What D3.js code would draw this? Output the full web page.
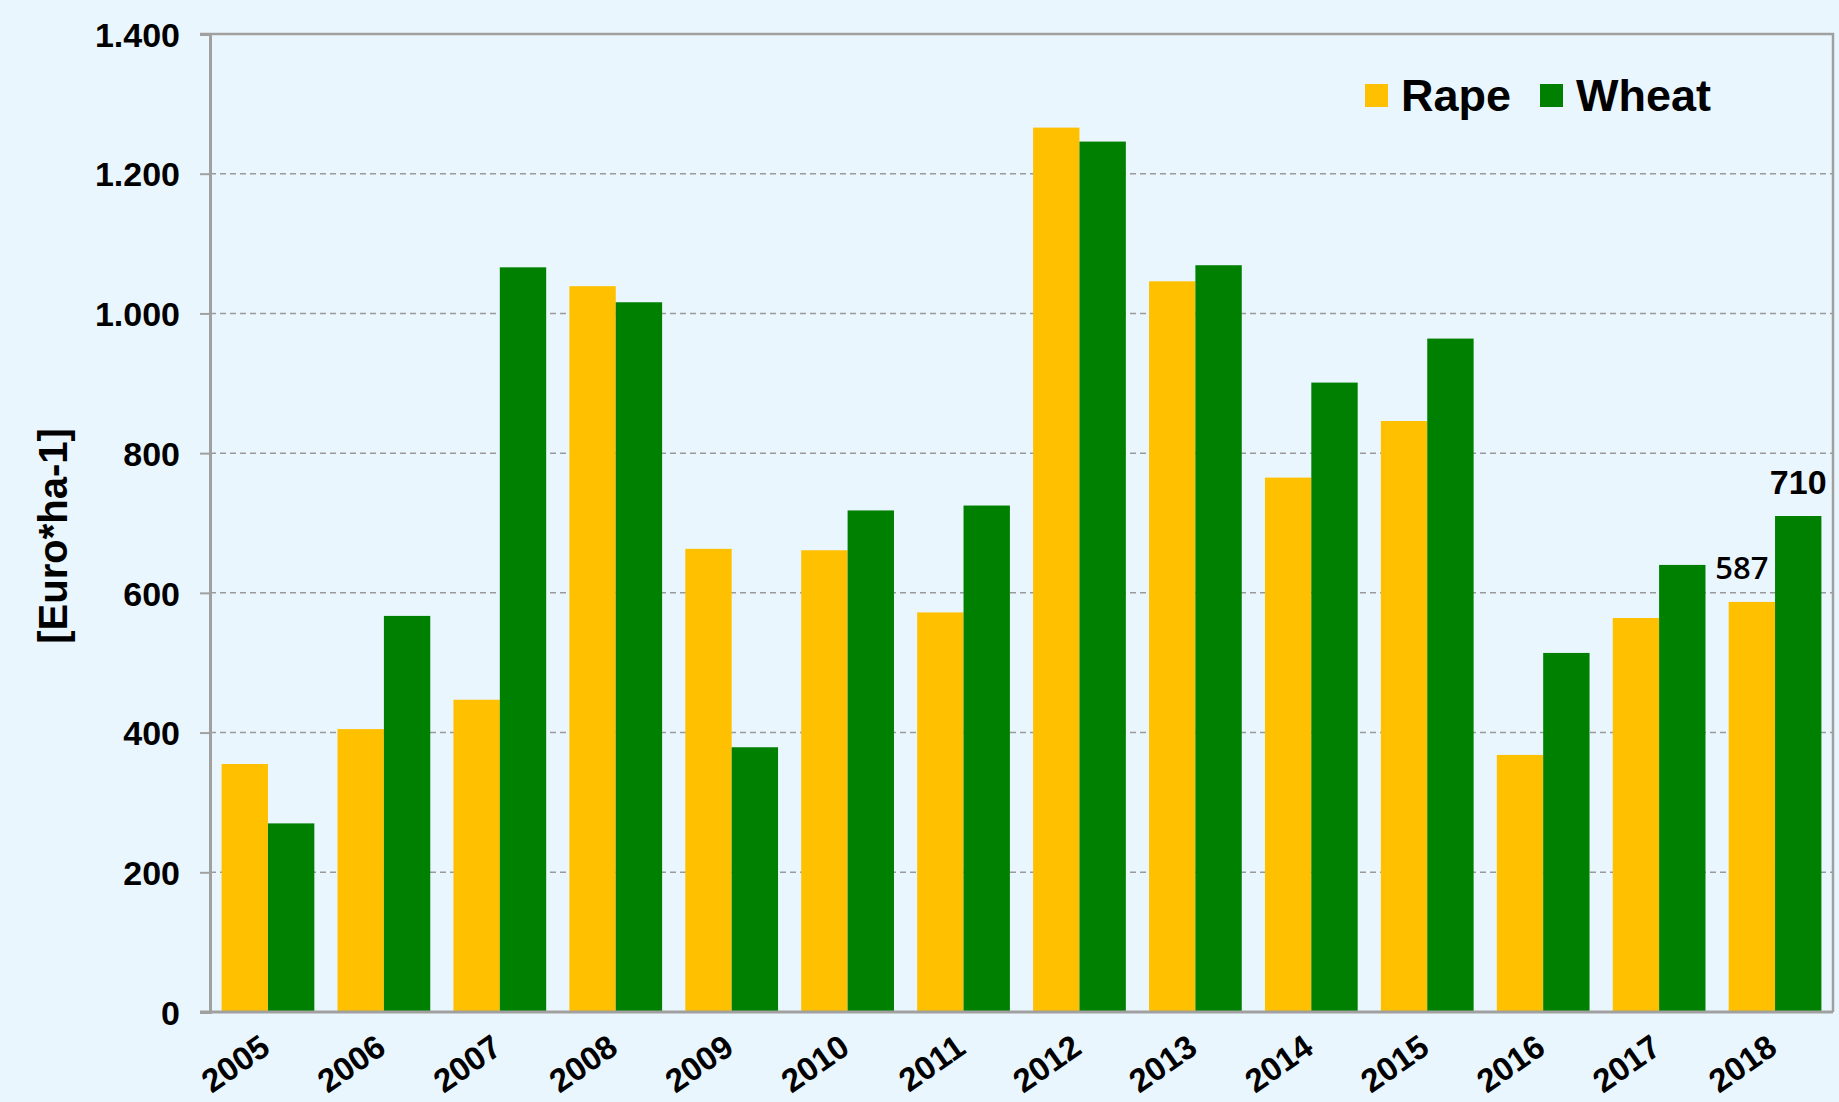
<!DOCTYPE html>
<html>
<head>
<meta charset="utf-8">
<script src="https://cdn.jsdelivr.net/npm/d3@7"></script>
<style>
  body { margin: 0; background: #eaf6fd; }
  text { font-family: "Liberation Sans", Arial, sans-serif; fill: #000; }
</style>
</head>
<body>
<div class="chart"></div>
<script>
// data
var years = ["2005", "2006", "2007", "2008", "2009", "2010", "2011", "2012", "2013", "2014", "2015", "2016", "2017", "2018"];
var rape = [355, 405, 447, 1039, 663, 661, 572, 1266, 1046, 765, 846, 368, 564, 587];
var wheat = [270, 567, 1066, 1016, 379, 718, 725, 1246, 1069, 901, 964, 514, 640, 710];
var yTicks = [0, 200, 400, 600, 800, 1000, 1200, 1400];
var seriesNames = ["Rape", "Wheat"];
var seriesColors = ["#ffc000", "#008000"];

var svgWidth = 1839;
var svgHeight = 1102;

var margin = {
  top: 34,
  right: 6,
  bottom: 90,
  left: 210
};

var width = svgWidth - margin.left - margin.right;
var height = svgHeight - margin.top - margin.bottom;

var svg = d3.select(".chart")
  .append("svg")
  .attr("width", svgWidth)
  .attr("height", svgHeight)
  .style("display", "block");

svg.append("rect")
  .attr("width", svgWidth)
  .attr("height", svgHeight)
  .attr("fill", "#eaf6fd");

var chartGroup = svg.append("g")
  .attr("transform", `translate(${margin.left}, ${margin.top})`);

// scales
var xBand = d3.scaleBand()
  .domain(years)
  .range([0, width])
  .paddingInner(0.2)
  .paddingOuter(0.1);

var xSub = d3.scaleBand()
  .domain(seriesNames)
  .range([0, xBand.bandwidth()]);

var yLinearScale = d3.scaleLinear()
  .domain([0, 1400])
  .range([height, 0]);

var deLocale = d3.formatLocale({ decimal: ",", thousands: ".", grouping: [3], currency: ["", "€"] });
var fmt = deLocale.format(",");

// dashed gridlines
chartGroup.selectAll(".grid")
  .data(yTicks.filter(d => d > 0 && d < 1400))
  .enter()
  .append("line")
  .attr("x1", 0)
  .attr("x2", width)
  .attr("y1", d => yLinearScale(d))
  .attr("y2", d => yLinearScale(d))
  .attr("stroke", "#9a9a9a")
  .attr("stroke-width", 1.5)
  .attr("stroke-dasharray", "6,4");

// bars
var rows = years.map((y, i) => ({ year: y, values: [rape[i], wheat[i]] }));

var groups = chartGroup.selectAll(".year")
  .data(rows)
  .enter()
  .append("g")
  .attr("transform", d => `translate(${xBand(d.year)}, 0)`);

groups.selectAll("rect")
  .data(d => d.values.map((v, k) => ({ name: seriesNames[k], value: v, k: k })))
  .enter()
  .append("rect")
  .attr("x", d => xSub(d.name))
  .attr("width", xSub.bandwidth())
  .attr("y", d => yLinearScale(d.value))
  .attr("height", d => height - yLinearScale(d.value))
  .attr("fill", d => seriesColors[d.k]);

// frame: top and right border
chartGroup.append("path")
  .attr("d", `M-10,0H${width}V${height}`)
  .attr("fill", "none")
  .attr("stroke", "#a0a0a0")
  .attr("stroke-width", 2.5);

// y axis
var yAxis = d3.axisLeft(yLinearScale)
  .tickValues(yTicks)
  .tickSize(10)
  .tickPadding(20)
  .tickFormat(fmt);

var yAxisG = chartGroup.append("g").call(yAxis);
yAxisG.select(".domain").attr("stroke", "#a0a0a0").attr("stroke-width", 3);
yAxisG.selectAll(".tick line").attr("stroke", "#a0a0a0").attr("stroke-width", 2);
yAxisG.selectAll(".tick text")
  .attr("font-family", "'Liberation Sans', Arial, sans-serif")
  .attr("font-size", 34)
  .attr("font-weight", "bold")
  .attr("dy", "0.36em");

// x axis
var xAxis = d3.axisBottom(xBand).tickSize(0);
var xAxisG = chartGroup.append("g")
  .attr("transform", `translate(0, ${height})`)
  .call(xAxis);
xAxisG.select(".domain")
  .attr("d", `M-10,0H${width}`)
  .attr("stroke", "#a0a0a0")
  .attr("stroke-width", 3);
xAxisG.selectAll(".tick text")
  .attr("font-family", "'Liberation Sans', Arial, sans-serif")
  .attr("font-size", 33)
  .attr("font-weight", "bold")
  .attr("x", 0)
  .attr("y", 0)
  .attr("dy", 0)
  .attr("transform", "translate(4, 40) rotate(-35)")
  .style("text-anchor", "end");

// axis title
chartGroup.append("text")
  .attr("transform", `translate(${53 - margin.left}, ${536 - margin.top}) rotate(-90)`)
  .attr("text-anchor", "middle")
  .attr("dy", "0.36em")
  .attr("font-size", 40)
  .attr("font-weight", "bold")
  .text("[Euro*ha-1]");

// value labels on the last year
var last = years.length - 1;
chartGroup.append("text")
  .attr("x", xBand(years[last]) + xSub("Rape") + xSub.bandwidth() / 2 - 10)
  .attr("y", yLinearScale(rape[last]) - 23)
  .attr("text-anchor", "middle")
  .attr("font-size", 31)
  .attr("font-weight", 600)
  .style("font-family", "'Open Sans', 'Liberation Sans', sans-serif")
  .text(rape[last]);

chartGroup.append("text")
  .attr("x", xBand(years[last]) + xSub("Wheat") + xSub.bandwidth() / 2)
  .attr("y", yLinearScale(wheat[last]) - 22)
  .attr("text-anchor", "middle")
  .attr("font-size", 34)
  .attr("font-weight", "bold")
  .text(wheat[last]);

// legend
var legendX = [1365, 1540];
var legend = svg.selectAll(".legend")
  .data(seriesNames)
  .enter()
  .append("g")
  .attr("transform", (d, i) => `translate(${legendX[i]}, 84)`);

legend.append("rect")
  .attr("width", 23)
  .attr("height", 23)
  .attr("fill", (d, i) => seriesColors[i]);

legend.append("text")
  .attr("x", 36)
  .attr("y", 27)
  .attr("font-size", 45)
  .attr("font-weight", "bold")
  .text(d => d);
</script>
</body>
</html>
